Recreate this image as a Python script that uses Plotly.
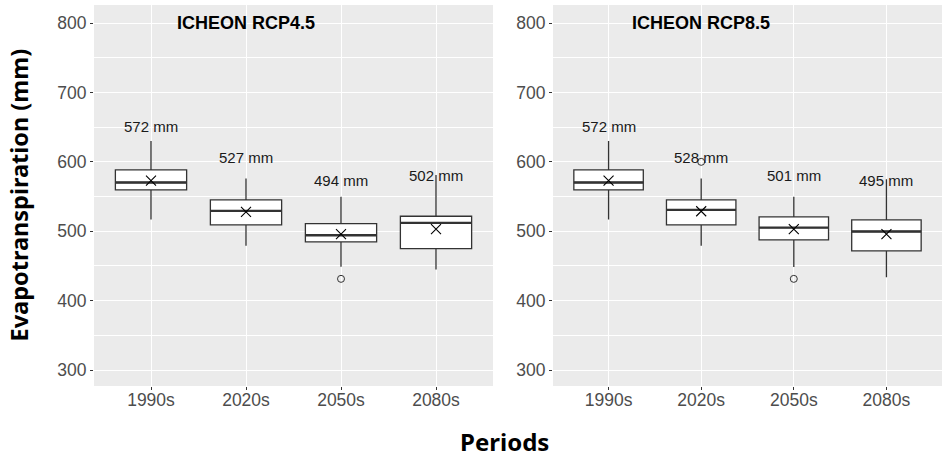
import plotly.graph_objects as go

periods = ["1990s", "2020s", "2050s", "2080s"]

# RCP4.5
r45_lower = [517, 479, 449, 445]
r45_q1 = [559.6, 509.2, 484.7, 475]
r45_median = [570.2, 529.4, 494.2, 512]
r45_q3 = [588.5, 545.2, 511.1, 521.6]
r45_upper = [630, 576, 549.6, 581]
r45_mean = [573, 528, 495.7, 502.9]
r45_labels = ["572 mm", "527 mm", "494 mm", "502 mm"]
r45_out_x = ["2050s"]
r45_out_y = [431.4]

# RCP8.5
r85_lower = [517, 479, 448.4, 433.7]
r85_q1 = [559.6, 509.2, 487.6, 471.7]
r85_median = [570.2, 530.8, 505.3, 499.6]
r85_q3 = [588.5, 545.2, 520.7, 516.4]
r85_upper = [630, 576, 549.6, 575]
r85_mean = [573, 528.8, 502.9, 495.7]
r85_labels = ["572 mm", "528 mm", "501 mm", "495 mm"]
r85_out_x = ["2020s", "2050s"]
r85_out_y = [600, 431.4]

titles = ["ICHEON RCP4.5", "ICHEON RCP8.5"]
yticks = [300, 400, 500, 600, 700, 800]
yminor = [350, 450, 550, 650, 750]

BOXW = 0.75
LABEL_OFFSET = 78
LINE = "#333333"
FONT = "Liberation Sans, Arial, sans-serif"

fig = go.Figure()

panels = [
    dict(lower=r45_lower, q1=r45_q1, med=r45_median, q3=r45_q3, upper=r45_upper,
         mean=r45_mean, labels=r45_labels, ox=r45_out_x, oy=r45_out_y, xa="x", ya="y"),
    dict(lower=r85_lower, q1=r85_q1, med=r85_median, q3=r85_q3, upper=r85_upper,
         mean=r85_mean, labels=r85_labels, ox=r85_out_x, oy=r85_out_y, xa="x2", ya="y2"),
]

idx = list(range(len(periods)))
annotations = []
for p, title in zip(panels, titles):
    fig.add_trace(go.Box(
        x=idx, q1=p["q1"], median=p["med"], q3=p["q3"],
        lowerfence=p["lower"], upperfence=p["upper"],
        width=BOXW, fillcolor="white", line=dict(color=LINE, width=1.3),
        boxpoints=False, whiskerwidth=0, showlegend=False, hoverinfo="skip",
        xaxis=p["xa"], yaxis=p["ya"]))
    # thicker median lines
    for i, m in zip(idx, p["med"]):
        fig.add_trace(go.Scatter(
            x=[i - BOXW / 2, i + BOXW / 2], y=[m, m], mode="lines",
            line=dict(color=LINE, width=2.3), showlegend=False, hoverinfo="skip",
            xaxis=p["xa"], yaxis=p["ya"]))
    # outliers
    fig.add_trace(go.Scatter(
        x=[periods.index(c) for c in p["ox"]], y=p["oy"], mode="markers",
        marker=dict(symbol="circle-open", size=7, color=LINE, line=dict(width=1)),
        showlegend=False, hoverinfo="skip", xaxis=p["xa"], yaxis=p["ya"]))
    # means
    fig.add_trace(go.Scatter(
        x=idx, y=p["mean"], mode="markers",
        marker=dict(symbol="x-thin", size=10, color="black", line=dict(width=1.1, color="black")),
        showlegend=False, hoverinfo="skip", xaxis=p["xa"], yaxis=p["ya"]))
    for i, m, t in zip(idx, p["mean"], p["labels"]):
        annotations.append(dict(
            x=i, y=m + LABEL_OFFSET, xref=p["xa"], yref=p["ya"], text=t,
            showarrow=False, font=dict(family=FONT, size=15, color="#1a1a1a"),
            xanchor="center", yanchor="middle"))
    annotations.append(dict(
        x=1, y=800, xref=p["xa"], yref=p["ya"], text="<b>" + title + "</b>",
        showarrow=False, font=dict(family=FONT, size=18, color="black"),
        xanchor="center", yanchor="middle"))

annotations.append(dict(
    x=18 / 942, y=0.5, xref="paper", yref="paper", text="<b>Evapotranspiration (mm)</b>",
    textangle=-90, showarrow=False, font=dict(family="Noto Sans, sans-serif", size=23.5, color="black"),
    xanchor="center", yanchor="middle"))
annotations.append(dict(
    x=504 / 942, y=-56 / 381, xref="paper", yref="paper", text="<b>Periods</b>",
    showarrow=False, font=dict(family="Noto Sans, sans-serif", size=24, color="black"),
    xanchor="center", yanchor="middle"))

xcommon = dict(
    tickmode="array", tickvals=idx, ticktext=periods, range=[-0.6, 3.6],
    showgrid=True, gridcolor="white", gridwidth=1.1, zeroline=False,
    ticks="outside", ticklen=3, tickcolor=LINE, tickwidth=1,
    tickfont=dict(family=FONT, size=17.5, color="#4d4d4d"), showline=False,
    ticklabelstandoff=-5, automargin=False)
ycommon = dict(
    tickmode="array", tickvals=yticks, range=[277, 826],
    showgrid=True, gridcolor="white", gridwidth=1.1, zeroline=False,
    ticks="outside", ticklen=3, tickcolor=LINE, tickwidth=1,
    tickfont=dict(family=FONT, size=17.5, color="#4d4d4d"), showline=False,
    automargin=False,
    minor=dict(tickmode="array", tickvals=yminor, showgrid=True,
               gridcolor="white", gridwidth=0.5, ticks=""))

fig.update_layout(
    width=942, height=460,
    margin=dict(l=0, r=0, t=5, b=74),
    paper_bgcolor="white", plot_bgcolor="#EBEBEB",
    xaxis=dict(domain=[94 / 942, 493 / 942], anchor="y", **xcommon),
    yaxis=dict(domain=[0, 1], anchor="x", **ycommon),
    xaxis2=dict(domain=[553 / 942, 1.0], anchor="y2", **xcommon),
    yaxis2=dict(domain=[0, 1], anchor="x2", **ycommon),
    annotations=annotations,
    showlegend=False,
)

fig.write_html("out.html", config={"displayModeBar": False},
               post_script="document.body.style.margin='0';document.body.style.overflow='hidden';")
